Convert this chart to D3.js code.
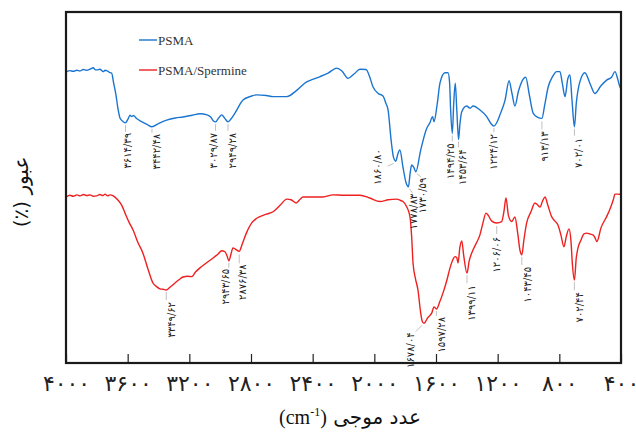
<!DOCTYPE html>
<html>
<head>
<meta charset="utf-8">
<script src="https://cdn.jsdelivr.net/npm/d3@7/dist/d3.min.js"></script>
<style>
  html, body { margin: 0; padding: 0; background: #fff; }
  svg { display: block; }
</style>
</head>
<body>
<svg id="chart" width="636" height="433"></svg>
<script>
// FTIR spectra: wavenumber (cm-1) and transmittance (%)
const psmaWn = [3995,3975,3953,3930,3909,3888,3866,3845,3823,3812,3801,3780,3758,3747,3736,3725,3714,3704,3690,3676,3663,3650,3630,3614.39,3598,3585,3574,3562,3546,3507,3475,3442.48,3400,3347,3290,3241,3180,3131,3085,3060,3045,3029.87,3010,2990,2970,2949.28,2930,2904,2852,2800,2763,2700,2657,2568,2500,2439,2400,2352,2300,2244,2210,2171,2130,2093,2054,2030,2009,1975,1944,1925,1911,1890,1875,1860.80,1848,1834,1815,1795,1778.83,1768,1758,1745,1730.59,1700,1660,1640,1622,1613,1593,1574,1542,1522,1512,1505,1494.25,1485,1475,1465,1453.64,1445,1433,1401,1379,1360,1315,1271,1245,1224.12,1200,1185,1152,1126,1108,1088,1065,1044,1018,995,969,940,913.13,895,872,845,817,796,780,763,745,731,718,702.01,690,667,634,600,569,530,493,460,439,425,411,400];
const psmaT = [83.0,83.3,83.1,83.4,83.2,83.6,83.4,83.7,84.1,83.6,83.5,83.7,83.0,83.4,83.3,83.0,82.7,82.6,79.5,76.4,72.5,69.8,68.8,68.4,69.5,70.6,70.2,70.5,69.8,68.7,68.0,67.3,68.2,69.2,69.8,70.1,70.6,71.0,70.7,70.0,69.0,68.7,69.8,70.7,69.7,68.7,69.5,71.2,74.9,76.0,76.4,76.2,75.9,75.9,77.8,80.1,80.8,81.6,82.6,84.0,83.2,81.1,82.4,83.7,83.6,81.5,78.7,76.8,76.1,74.0,72.1,63.0,58.5,57.5,59.5,60.7,56.0,51.5,50.2,54.0,56.4,55.8,54.5,60.5,66.9,68.4,70.2,68.8,73.5,79.8,82.7,82.7,80.0,72.0,65.4,74.0,79.7,72.0,63.7,68.0,71.6,73.2,72.6,73.2,72.1,70.2,68.3,67.5,69.0,70.7,74.9,80.4,77.0,73.2,77.5,80.1,81.4,76.5,71.1,70.0,69.7,73.5,78.7,81.5,83.0,83.0,79.5,75.9,81.0,82.1,75.0,67.3,74.0,80.1,82.7,79.5,76.8,79.0,80.6,81.5,83.0,81.5,79.2,78.0];

const spermWn = [3995,3975,3953,3930,3909,3885,3865,3844,3822,3801,3780,3760,3747,3730,3715,3693,3665,3639,3617,3590,3565,3535,3501,3470,3436,3410,3390,3370,3349.62,3320,3293,3265,3241,3210,3185,3160,3131,3090,3046,3015,2990,2969,2955,2943.65,2930,2917,2900,2876.38,2860,2830,2795,2770,2742,2700,2657,2610,2568,2540,2508,2480,2463,2400,2333,2268,2200,2093,2030,1963,1910,1855,1830,1814,1790,1769,1758,1749,1733,1717,1700,1690,1678.04,1665,1655,1640,1628,1613,1597.28,1575,1555,1530,1509,1490,1477,1465,1457,1445,1433,1420,1399.11,1385,1360,1340,1315,1295,1276,1260,1240,1206.06,1174,1160,1146,1130,1109,1088,1070,1055,1043.45,1030,1012,985,958,940,925,910,893,875,850,830,809,790,770,755,737,725,715,702.44,690,679,660,640,622,600,582,570,556,530,493,470,450,439,420,400];
const spermT = [47.4,47.8,47.5,47.9,47.6,48.0,47.7,47.9,47.5,47.6,48.0,47.7,48.1,47.6,47.9,47.6,46.5,45.0,42.7,40.0,37.9,34.5,31.3,27.0,22.8,21.7,21.1,21.0,20.8,21.8,22.8,23.8,24.5,24.7,24.6,25.9,27.1,28.5,29.9,31.0,32.0,31.7,30.5,29.1,31.0,32.8,32.4,31.8,33.5,37.0,39.9,41.0,41.7,42.4,43.1,45.0,46.7,46.5,45.6,46.7,47.3,47.3,47.3,47.9,47.8,47.8,47.0,46.0,46.5,46.7,46.3,46.0,44.5,41.7,36.0,28.5,24.0,20.8,14.5,12.0,11.3,12.0,12.8,13.5,14.2,16.0,15.4,17.5,19.9,23.5,27.1,29.5,30.3,30.0,28.5,33.0,34.8,30.5,25.6,29.0,32.2,34.0,36.5,40.0,42.7,42.0,40.5,39.9,40.3,43.0,47.0,42.0,40.3,41.6,37.0,32.0,30.8,35.0,39.9,43.0,45.6,45.0,44.4,46.0,47.3,45.0,41.7,40.5,39.3,36.5,33.1,36.0,38.2,35.0,28.0,23.6,30.0,32.8,35.0,36.8,37.0,36.7,36.5,35.8,34.6,38.5,41.7,44.0,46.5,48.1,48.1,48.0];

// Labelled absorption bands
const psmaPeaks = [3614.39, 3442.48, 3029.87, 2949.28, 1860.80, 1778.83, 1730.59, 1494.25, 1453.64, 1224.12, 913.13, 702.01];
const spermPeaks = [3349.62, 2943.65, 2876.38, 1678.04, 1597.28, 1399.11, 1206.06, 1043.45, 702.44];

const xTicks = [4000, 3600, 3200, 2800, 2400, 2000, 1600, 1200, 800, 400];
const seriesNames = ["PSMA", "PSMA/Spermine"];

// Label placement: leader [x1,y1,x2,y2] and text [dx, dy] relative to the band minimum
const psmaLabelLayout = [
  {leader:[0,2,0,9],  text:[2.5,10]},
  {leader:[0,2,0,6],  text:[5,7]},
  {leader:[0,2,0,9],  text:[-2.5,11]},
  {leader:[0,2,0,9],  text:[5,11]},
  {leader:[-2,2,-8,5], text:[-18,-12]},
  {leader:[1,2,4,6],  text:[5,7]},
  {leader:[1,2,5,5],  text:[7,6]},
  {leader:[0,2,0,8],  text:[-2,10]},
  {leader:[0,2,0,8],  text:[3.5,10]},
  {leader:[0,2,0,6],  text:[0,8]},
  {leader:[0,3,0,11], text:[3,13]},
  {leader:[0,2,0,9],  text:[4,11]}
];
const spermLabelLayout = [
  {leader:[0,2,0,10], text:[5,12]},
  {leader:[0,2,0,7],  text:[-3,8]},
  {leader:[0,3,0,12], text:[3.5,13]},
  {leader:[-2,2,-8,8], text:[-13,9]},
  {leader:[0,2,0,7],  text:[5,8]},
  {leader:[0,2,0,10], text:[4.5,12]},
  {leader:[0,3,0,11], text:[0,14]},
  {leader:[0,2,0,10], text:[6,12]},
  {leader:[0,2,0,10], text:[5.5,12]}
];

(function () {
  const colors = ["#1b75d0", "#ee2020"];
  const faDigits = "۰۱۲۳۴۵۶۷۸۹";
  const toFa = s => String(s).replace(/[0-9]/g, d => faDigits[+d]).replace(".", "/");

  const svg = d3.select("#chart");
  const plotLeft = 66, plotRight = 621, plotTop = 12, plotBottom = 363;

  const x = d3.scaleLinear().domain([4000, 400]).range([plotLeft, plotRight]);
  const y = d3.scaleLinear().domain([0, 100]).range([plotBottom, plotTop]);

  const line = d3.line()
    .x(d => x(d[0]))
    .y(d => y(d[1]))
    .curve(d3.curveMonotoneX);

  const psma = psmaWn.map((w, i) => [w, psmaT[i]]);
  const sperm = spermWn.map((w, i) => [w, spermT[i]]);

  // spectra
  svg.append("path").datum(sperm)
    .attr("fill", "none").attr("stroke", colors[1]).attr("stroke-width", 1.4)
    .attr("stroke-linejoin", "round").attr("d", line);
  svg.append("path").datum(psma)
    .attr("fill", "none").attr("stroke", colors[0]).attr("stroke-width", 1.4)
    .attr("stroke-linejoin", "round").attr("d", line);

  // band annotations
  function annotate(peaks, layout, series) {
    const g = svg.append("g");
    peaks.forEach((wn, i) => {
      const pt = series.find(d => d[0] === wn);
      const px = x(wn), py = y(pt[1]);
      const L = layout[i];
      g.append("line")
        .attr("x1", px + L.leader[0]).attr("y1", py + L.leader[1])
        .attr("x2", px + L.leader[2]).attr("y2", py + L.leader[3])
        .attr("stroke", "#b0b0b0").attr("stroke-width", 0.8);
      const tx = px + L.text[0], ty = py + L.text[1];
      g.append("text")
        .attr("transform", `translate(${tx},${ty}) rotate(-90)`)
        .attr("text-anchor", "end")
        .attr("dominant-baseline", "central")
        .attr("font-family", "'DejaVu Sans', sans-serif")
        .attr("font-size", 10)
        .attr("fill", "#222")
        .text(toFa(wn.toFixed(2)));
    });
  }
  annotate(psmaPeaks, psmaLabelLayout, psma);
  annotate(spermPeaks, spermLabelLayout, sperm);

  // bottom axis with inward ticks
  const xAxis = d3.axisBottom(x)
    .tickValues(xTicks)
    .tickFormat(d => toFa(d))
    .tickSizeInner(-9)
    .tickSizeOuter(0)
    .tickPadding(12);
  const ax = svg.append("g").attr("transform", `translate(0,${plotBottom})`).call(xAxis);
  ax.select(".domain").remove();
  ax.selectAll(".tick line").attr("stroke", "#222").attr("stroke-width", 1.2);
  ax.selectAll(".tick text")
    .attr("font-family", "'DejaVu Sans', sans-serif")
    .attr("font-size", 22)
    .attr("fill", "#222");

  // frame
  svg.append("rect")
    .attr("x", plotLeft).attr("y", plotTop)
    .attr("width", plotRight - plotLeft).attr("height", plotBottom - plotTop)
    .attr("fill", "none").attr("stroke", "#1a1a1a").attr("stroke-width", 2.2);

  // legend
  const legend = svg.append("g");
  seriesNames.forEach((name, i) => {
    const ly = 40 + i * 30;
    legend.append("line")
      .attr("x1", 139).attr("x2", 157).attr("y1", ly).attr("y2", ly)
      .attr("stroke", colors[i]).attr("stroke-width", 1.4);
    legend.append("text")
      .attr("x", 158).attr("y", ly + 4.5)
      .attr("font-family", "'Liberation Serif', 'Times New Roman', serif")
      .attr("font-size", 13)
      .attr("fill", "#333")
      .text(name);
  });

  // axis titles
  const xt = svg.append("text")
    .attr("x", 350).attr("y", 424)
    .attr("text-anchor", "middle")
    .attr("font-size", 20)
    .attr("fill", "#111");
  xt.append("tspan").attr("font-family", "'Liberation Serif', serif").text("(cm");
  xt.append("tspan").attr("font-family", "'Liberation Serif', serif")
    .attr("font-size", 12).attr("dy", -8).text("-1");
  xt.append("tspan").attr("font-family", "'Liberation Serif', serif").attr("dy", 8).text(")");
  xt.append("tspan").attr("font-family", "'DejaVu Sans', sans-serif").text(" عدد موجی");

  svg.append("text")
    .attr("transform", "translate(28,192) rotate(-90)")
    .attr("text-anchor", "middle")
    .attr("direction", "rtl")
    .attr("font-family", "'DejaVu Sans', sans-serif")
    .attr("font-size", 20)
    .attr("fill", "#111")
    .text("عبور (٪)");
})();
</script>
</body>
</html>
